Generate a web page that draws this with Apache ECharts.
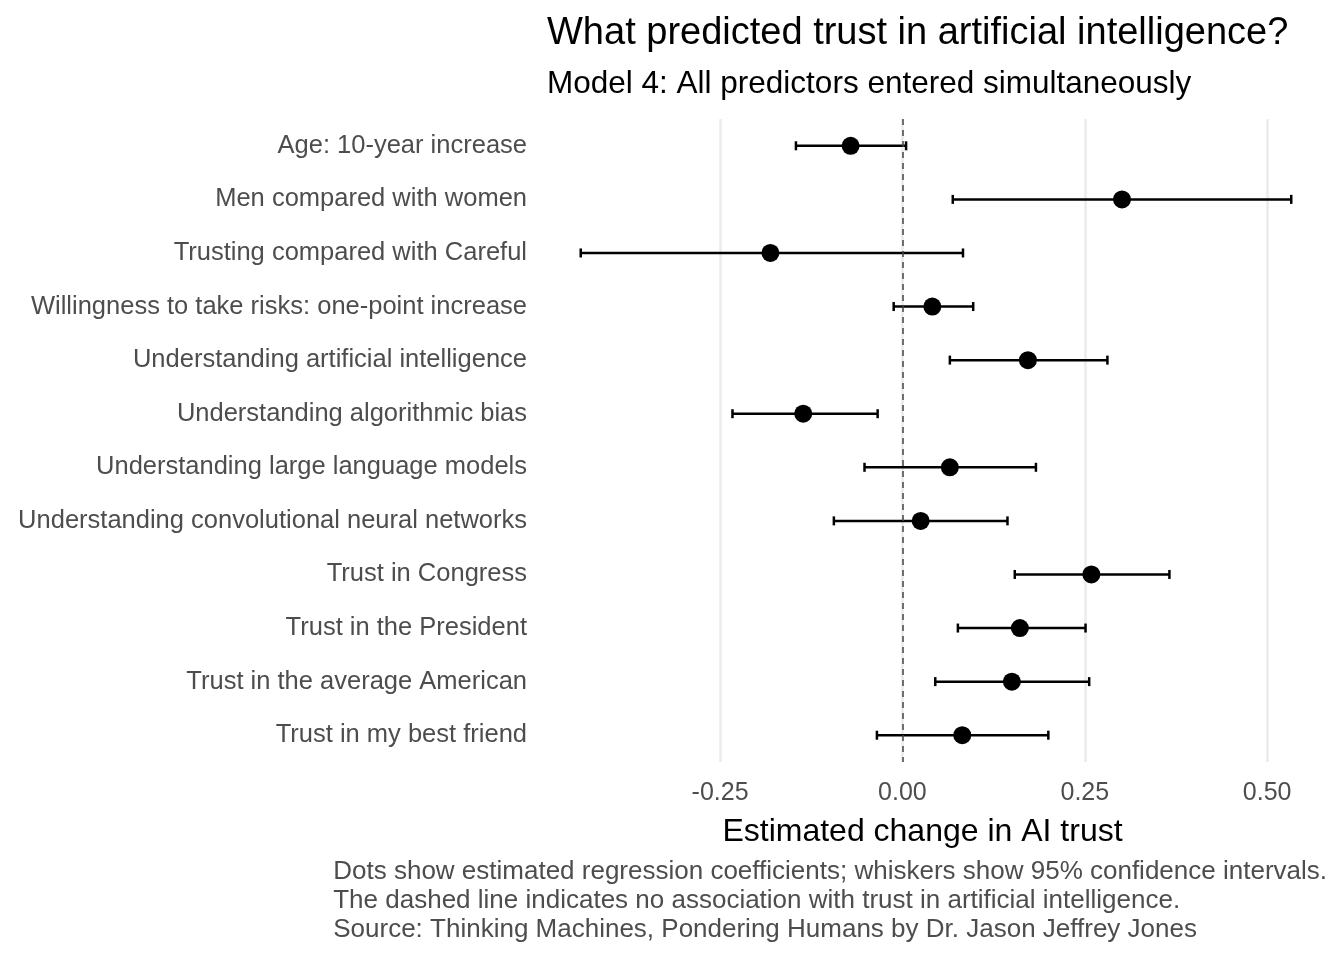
<!DOCTYPE html>
<html><head><meta charset="utf-8">
<script src="https://cdn.jsdelivr.net/npm/echarts@6/dist/echarts.min.js"></script>
<style>html,body{margin:0;background:#fff}#chart{width:1344px;height:960px}</style>
</head><body><div id="chart"></div>
<script>
// values
var predictors = ['Age: 10-year increase','Men compared with women','Trusting compared with Careful',
  'Willingness to take risks: one-point increase','Understanding artificial intelligence',
  'Understanding algorithmic bias','Understanding large language models',
  'Understanding convolutional neural networks','Trust in Congress','Trust in the President',
  'Trust in the average American','Trust in my best friend'];
var estimates = [-0.071, 0.301, -0.181, 0.041, 0.172, -0.136, 0.065, 0.025, 0.259, 0.161, 0.150, 0.082];
var lower = [-0.146, 0.069, -0.441, -0.012, 0.065, -0.233, -0.052, -0.094, 0.154, 0.076, 0.045, -0.035];
var upper = [0.005, 0.533, 0.083, 0.097, 0.281, -0.034, 0.183, 0.144, 0.366, 0.251, 0.256, 0.200];
var xTicks = [-0.25, 0, 0.25, 0.5];

var font = 'Liberation Sans, Arial, sans-serif';
var chart = echarts.init(document.getElementById('chart'));

chart.setOption({
  animation: false,
  title: [
    {text: 'What predicted trust in artificial intelligence?', left: 542, top: 10,
     textStyle: {fontFamily: font, fontSize: 38, fontWeight: 'normal', color: '#000'}},
    {text: 'Model 4: All predictors entered simultaneously', left: 542, top: 63,
     textStyle: {fontFamily: font, fontSize: 31.5, fontWeight: 'normal', color: '#000'}}
  ],
  graphic: [{
    type: 'text', right: 17, top: 857,
    style: {
      text: 'Dots show estimated regression coefficients; whiskers show 95% confidence intervals.\nThe dashed line indicates no association with trust in artificial intelligence.\nSource: Thinking Machines, Pondering Humans by Dr. Jason Jeffrey Jones',
      align: 'right', fontFamily: font, fontSize: 26, lineHeight: 29, fill: '#4d4d4d'
    }
  }],
  grid: {left: 545, right: 44, top: 119, bottom: 198},
  xAxis: {
    type: 'value', min: -0.49, max: 0.545,
    name: 'Estimated change in AI trust', nameLocation: 'middle', nameGap: 54,
    nameTextStyle: {fontFamily: font, fontSize: 32, color: '#000'},
    axisLine: {show: false},
    axisTick: {show: false, customValues: xTicks},
    axisLabel: {
      fontFamily: font, fontSize: 25, color: '#4d4d4d', margin: 19,
      customValues: xTicks, formatter: function (v) { return v.toFixed(2); }
    },
    splitLine: {show: true, lineStyle: {color: '#ebebeb', width: 2.5}}
  },
  yAxis: {
    type: 'category', data: predictors, inverse: true,
    axisLine: {show: false}, axisTick: {show: false},
    axisLabel: {fontFamily: font, fontSize: 25.5, color: '#4d4d4d', margin: 18},
    splitLine: {show: false}
  },
  series: [
    {
      type: 'custom',
      data: predictors.map(function (p, i) { return [i, lower[i], upper[i]]; }),
      encode: {y: 0, x: [1, 2]},
      renderItem: function (params, api) {
        var a = api.coord([api.value(1), api.value(0)]);
        var b = api.coord([api.value(2), api.value(0)]);
        var h = 4.5, st = {stroke: '#000', lineWidth: 2.5};
        return {type: 'group', children: [
          {type: 'line', shape: {x1: a[0], y1: a[1], x2: b[0], y2: b[1]}, style: st},
          {type: 'line', shape: {x1: a[0], y1: a[1] - h, x2: a[0], y2: a[1] + h}, style: st},
          {type: 'line', shape: {x1: b[0], y1: b[1] - h, x2: b[0], y2: b[1] + h}, style: st}
        ]};
      },
      markLine: {
        silent: true, symbol: 'none', label: {show: false},
        lineStyle: {color: '#444', type: [6, 5], width: 1.5},
        data: [{xAxis: 0}]
      },
      z: 2
    },
    {
      type: 'scatter',
      data: estimates.map(function (v, i) { return [v, i]; }),
      symbolSize: 18,
      itemStyle: {color: '#000', opacity: 1},
      z: 3
    }
  ]
});
</script>
</body></html>
